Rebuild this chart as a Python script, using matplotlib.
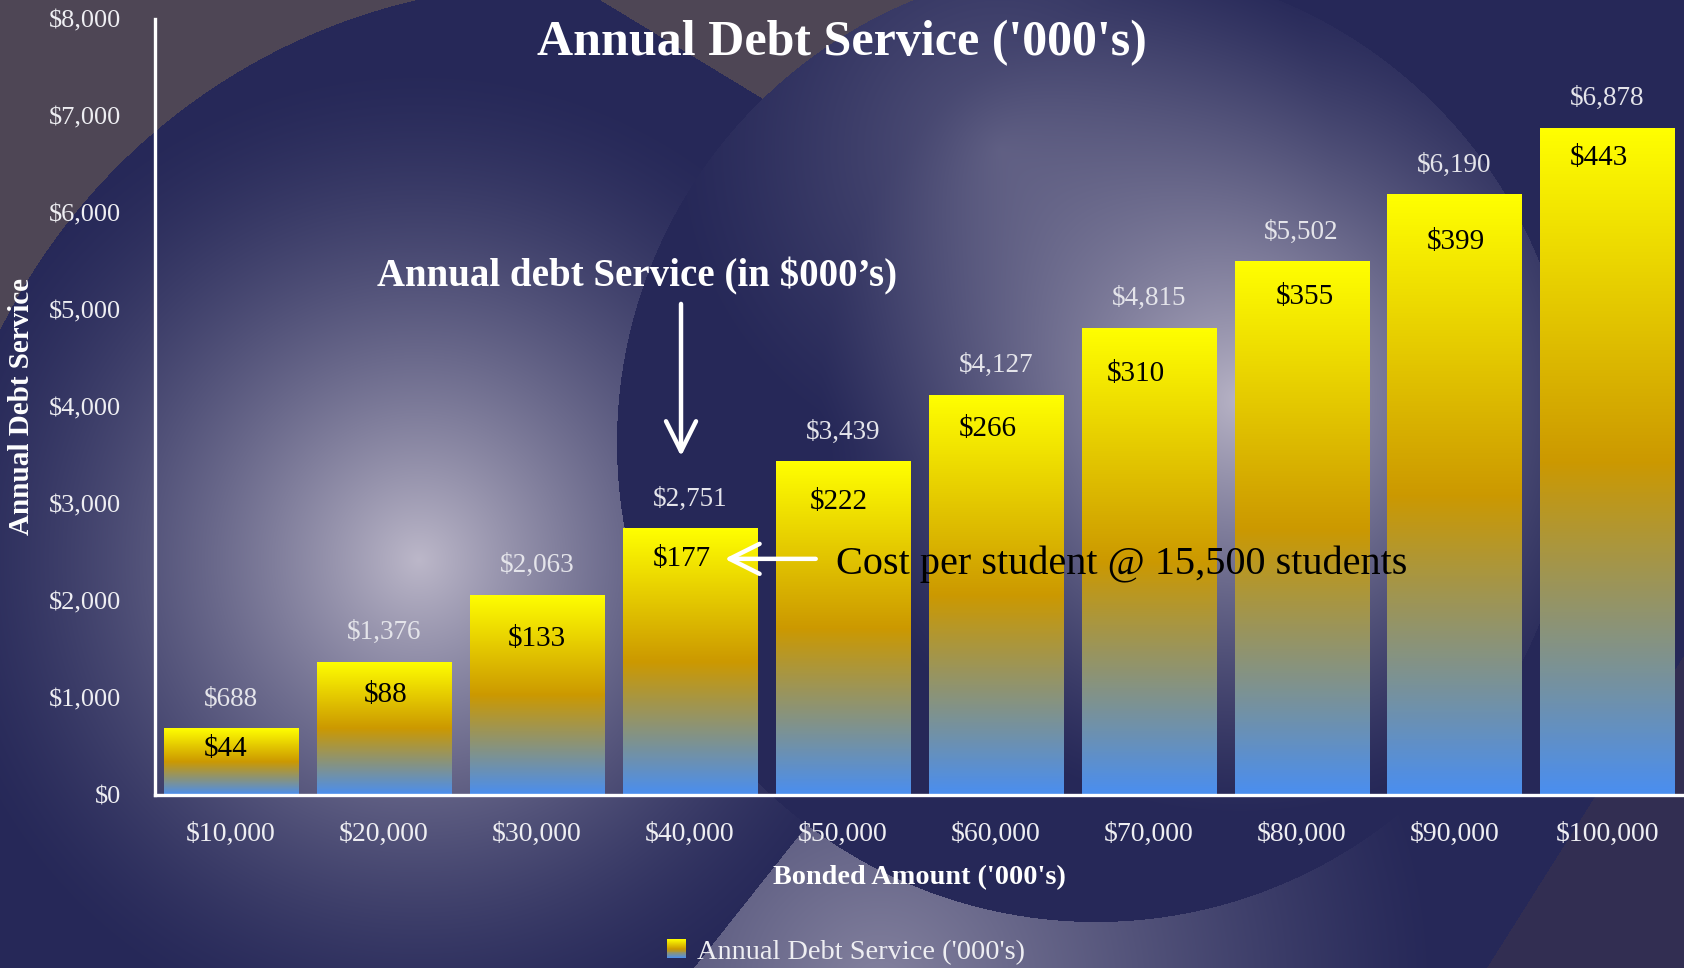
import numpy as np
import matplotlib
matplotlib.use("Agg")
import matplotlib.pyplot as plt
from matplotlib.colors import LinearSegmentedColormap
from matplotlib.legend_handler import HandlerBase
from matplotlib.patches import Rectangle, Patch

plt.rcParams["font.family"] = ["Liberation Serif", "DejaVu Serif"]

# data
CATEGORIES = ["$10,000", "$20,000", "$30,000", "$40,000", "$50,000",
              "$60,000", "$70,000", "$80,000", "$90,000", "$100,000"]
DEBT_SERVICE = [688, 1376, 2063, 2751, 3439, 4127, 4815, 5502, 6190, 6878]
COST_PER_STUDENT = [44, 88, 133, 177, 222, 266, 310, 355, 399, 443]
Y_TICKS = [0, 1000, 2000, 3000, 4000, 5000, 6000, 7000, 8000]

# hand placed offsets (points) of the per-student labels inside the bars
INNER_DX = [-4, 1.5, 0, -6, -3, -6, -9, 2, 1, -6]
INNER_DY = [-15, -24, -32, -22, -29, -25, -33, -26, -34, -22]

W, H = 1684, 968
NAVY = np.array([38, 40, 88]) / 255
GREY = np.array([78, 70, 85]) / 255
LAV = np.array([196, 191, 207]) / 255
CORNER = np.array([50, 46, 82]) / 255

bar_cmap = LinearSegmentedColormap.from_list(
    "bars", [(0.0, "#4a8ef0"), (0.5, "#cc9900"), (1.0, "#ffff00")])


def glow(xx, yy, cx, cy, radius, amp, power=1.2):
    d = np.hypot(xx - cx, yy - cy)
    return amp * np.clip(1 - d / radius, 0, 1) ** power


def background():
    yy, xx = np.mgrid[0:H, 0:W] + 0.5
    in_c2 = np.hypot(xx - 1096, yy - 443) < 479
    w_out = glow(xx, yy, 419, 560, 500, 0.95, 1.5)
    ga = glow(xx, yy, 1240, 400, 420, 0.92, 1.3)
    gb = glow(xx, yy, 1000, 150, 330, 0.3)
    w_in = 1 - (1 - ga) * (1 - gb)
    w = np.where(in_c2, w_in, w_out)
    wedge = (~in_c2) & (yy > 790) & (xx > 794 - (yy - 842) * 0.794)
    w = np.where(wedge, np.maximum(w, glow(xx, yy, 880, 990, 560, 0.6)), w)
    img = NAVY * (1 - w[..., None]) + LAV * w[..., None]

    top_left = (np.hypot(xx - 557, yy - 605) > 621) & (xx < 560) & (yy < 500)
    triangle = (~in_c2) & (yy < 110) & (xx > 600 + yy / 88 * 145) & (xx < 1000)
    img[top_left | triangle] = GREY
    corner = xx > 1677 - 0.631 * (yy - 667)
    img[corner] = CORNER
    return img


class GradientHandler(HandlerBase):
    def create_artists(self, legend, orig_handle, xdescent, ydescent,
                       width, height, fontsize, trans):
        n = 20
        size = height
        x0 = -xdescent + (width - size) / 2
        y0 = -ydescent
        out = []
        for i in range(n):
            c = bar_cmap((i + 0.5) / n)
            out.append(Rectangle((x0, y0 + size * i / n), size, size / n + 0.3,
                                 facecolor=c, edgecolor="none", transform=trans))
        return out


fig = plt.figure(figsize=(16.84, 9.68), dpi=100)
bg = fig.add_axes([0, 0, 1, 1], zorder=-10)
bg.imshow(background(), aspect="auto", extent=(0, 1, 0, 1), origin="upper")
bg.axis("off")

ax = fig.add_axes([0.0918, 0.1787, 1 - 0.0918, 0.9806 - 0.1787])
ax.set_facecolor("none")

x = np.arange(len(CATEGORIES))
bars = ax.bar(x, DEBT_SERVICE, width=0.878, color="none", edgecolor="none", zorder=2)
grad = np.linspace(1, 0, 256).reshape(-1, 1)
for b in bars:
    x0, bw, bh = b.get_x(), b.get_width(), b.get_height()
    im = ax.imshow(grad, cmap=bar_cmap, vmin=0, vmax=1, aspect="auto",
                   extent=(x0, x0 + bw, 0, bh), origin="upper", zorder=2)
    im.set_clip_path(b)

ax.set_xlim(-0.5, len(CATEGORIES) - 0.5)
ax.set_ylim(0, 8000)
ax.set_xticks(x)
ax.set_xticklabels(CATEGORIES)
ax.set_yticks(Y_TICKS)
ax.set_yticklabels([f"${v:,}" for v in Y_TICKS])
ax.tick_params(axis="both", length=0, colors="#eeeef2", labelsize=19)
ax.tick_params(axis="x", labelsize=20, pad=19)
ax.tick_params(axis="y", pad=24)
for side in ("top", "right"):
    ax.spines[side].set_visible(False)
for side in ("left", "bottom"):
    ax.spines[side].set_color("white")
    ax.spines[side].set_linewidth(2.4)

for i, (v, c) in enumerate(zip(DEBT_SERVICE, COST_PER_STUDENT)):
    ax.annotate(f"${v:,}", (i, v), xytext=(0, 21), textcoords="offset points",
                ha="center", va="center", fontsize=19.5, color="#e4e4ea", zorder=5)
    ax.annotate(f"${c}", (i, v), xytext=(INNER_DX[i], INNER_DY[i]),
                textcoords="offset points", ha="center", va="center",
                fontsize=21, color="black", zorder=5)

ax.text(2.654, 5344, "Annual debt Service (in $000\u2019s)", ha="center", va="center",
        fontsize=28, fontweight="bold", color="white", zorder=5)
ax.annotate("", xy=(2.942, 3463), xytext=(2.942, 5090),
            arrowprops=dict(arrowstyle="->, head_length=0.72, head_width=0.36",
                            mutation_scale=30, lw=3.2, color="white"), zorder=5)
ax.annotate("", xy=(3.209, 2434), xytext=(3.841, 2434),
            arrowprops=dict(arrowstyle="->, head_length=0.72, head_width=0.36",
                            mutation_scale=30, lw=3.2, color="white"), zorder=5)
ax.text(3.954, 2379, "Cost per student @ 15,500 students", ha="left", va="center",
        fontsize=29, color="black", zorder=5)

fig.text(0.5, 0.9556, "Annual Debt Service ('000's)", ha="center", va="center",
         fontsize=36, fontweight="bold", color="white")
fig.text(0.546, 0.0932, "Bonded Amount ('000's)", ha="center", va="center",
         fontsize=20.3, fontweight="bold", color="white")
fig.text(0.0128, 0.580, "Annual Debt Service", rotation=90, ha="center", va="center",
         fontsize=21, fontweight="bold", color="white")

handle = Patch(label="Annual Debt Service ('000's)")
leg = fig.legend(handles=[handle], loc="center", bbox_to_anchor=(0.5026, 0.0166),
                 frameon=False, fontsize=20.4, labelcolor="#eeeef2",
                 handler_map={Patch: GradientHandler()},
                 handlelength=0.65, handleheight=0.65, handletextpad=0.4)

fig.savefig("out.png", dpi=100)
